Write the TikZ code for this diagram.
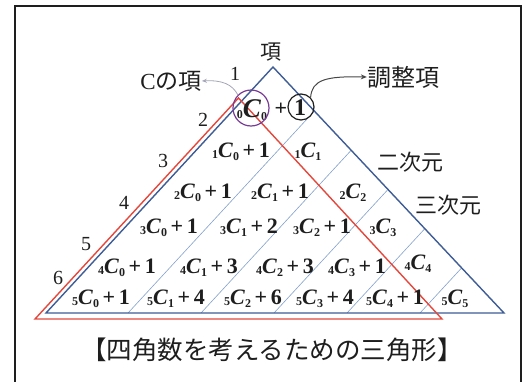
\documentclass[tikz,border=0pt]{standalone}
\usepackage{fontspec}
\setmainfont{Liberation Serif}
\newfontfamily\jp{Noto Sans CJK JP}
\usetikzlibrary{calc,shapes.geometric,arrows.meta}
\definecolor{tblue}{RGB}{62,92,150}
\definecolor{tred}{RGB}{228,72,60}
\definecolor{tdiag}{RGB}{130,160,205}
\definecolor{tpurple}{RGB}{120,60,150}
\definecolor{tgray}{RGB}{165,165,185}
\definecolor{tdark}{RGB}{70,70,70}
\definecolor{ttext}{RGB}{30,30,30}
\newcommand{\ct}[3]{\raisebox{-1pt}{\fontsize{12}{12}\selectfont\bfseries #1}\textbf{\textit{C}}\raisebox{-3pt}{\fontsize{12}{12}\selectfont\bfseries #2}#3}
\begin{document}
\begin{tikzpicture}[x=1pt,y=-1pt,
  cell/.style={font=\fontsize{22}{22}\selectfont\bfseries, text=ttext, inner sep=0pt},
  rownum/.style={font=\fontsize{20}{20}\selectfont, text=ttext, inner sep=0pt},
  jlab/.style={font=\jp\fontsize{22}{22}\selectfont, text=ttext, inner sep=0pt},
  diag/.style={draw=tdiag, line width=0.6pt},
  tri/.style={line width=1.4pt, line join=miter}]
\useasboundingbox (0,0) rectangle (528,381);
% frame
\draw[line width=1.8pt, ttext] (15,383) -- (15,6) -- (521,6) -- (521,383);
% triangles
\coordinate (AP) at (273,67);
\coordinate (BL) at (46,313);
\coordinate (BR) at (504,313);
\coordinate (RA) at (238.5,98);
\coordinate (RL) at (35,319);
\coordinate (RR) at (442,319);
\foreach \s in {82,155,228,301,374}{
  \pgfmathsetmacro\r{(458-\s)/458}
  \draw[diag] ($(BL)+(\s,0)$) -- ($(BR)!\r!(AP)$);
}
\draw[tri, draw=tblue] (BL) -- (AP) -- (BR) -- cycle;
\draw[tri, draw=tred] (RL) -- (RA) -- (RR) -- cycle;
% labels
\node[jlab, font=\jp\fontsize{21}{21}\selectfont] (kou) at (271,52) {項};
\node[jlab, font=\fontsize{23}{23}\selectfont] (clab) at (171,81) {C{\jp の項}};
\node[jlab, font=\jp\fontsize{24}{24}\selectfont] (alab) at (403,77) {調整項};
\node[jlab] (d2) at (410,162) {二次元};
\node[jlab] (d3) at (448,205) {三次元};
\node[rownum] (n1) at (235,74) {1};
\node[rownum] (n2) at (203,120) {2};
\node[rownum] (n3) at (163,161) {3};
\node[rownum] (n4) at (124,203) {4};
\node[rownum] (n5) at (86,244) {5};
\node[rownum] (n6) at (58,278) {6};
% row 0
\node[cell, font=\fontsize{27}{27}\selectfont\bfseries] (r0a) at (252,110) {\ct{0}{0}{}};
\node[cell] (r0p) at (281,109) {+};
\node[cell, font=\fontsize{24}{24}\selectfont\bfseries] (r0b) at (300,108) {1};
\node[draw=tpurple, line width=1.2pt, ellipse, minimum width=36pt, minimum height=36pt] (cc) at (251,108) {};
\node[draw=ttext, line width=1.2pt, circle, minimum size=26pt] (adj) at (301,107) {};
\draw[tgray, line width=0.8pt, -{Stealth[length=5pt,width=4pt]}] (cc.north west) .. controls (232,84) and (222,80) .. (clab.east);
\draw[tdark, line width=1pt, -{Stealth[length=6pt,width=5pt]}] (adj.north east) .. controls (312,80) and (325,76) .. (alab.west);
% row 1
\node[cell] at (241,152) {\ct{1}{0}{\,+\,1}};
\node[cell] at (308,152) {\ct{1}{1}{}};
% row 2
\node[cell] at (203,193) {\ct{2}{0}{\,+\,1}};
\node[cell] at (280,193) {\ct{2}{1}{\,+\,1}};
\node[cell] at (353,193) {\ct{2}{2}{}};
% row 3
\node[cell] at (169,228) {\ct{3}{0}{\,+\,1}};
\node[cell] at (249,228) {\ct{3}{1}{\,+\,2}};
\node[cell] at (322,228) {\ct{3}{2}{\,+\,1}};
\node[cell] at (383,228) {\ct{3}{3}{}};
% row 4
\node[cell] at (127,268) {\ct{4}{0}{\,+\,1}};
\node[cell] at (209,268) {\ct{4}{1}{\,+\,3}};
\node[cell] at (285,268) {\ct{4}{2}{\,+\,3}};
\node[cell] at (357,268) {\ct{4}{3}{\,+\,1}};
\node[cell] at (418,264) {\ct{4}{4}{}};
% row 5
\node[cell] at (101,299) {\ct{5}{0}{\,+\,1}};
\node[cell] at (176,299) {\ct{5}{1}{\,+\,4}};
\node[cell] at (253,299) {\ct{5}{2}{\,+\,6}};
\node[cell] at (325,299) {\ct{5}{3}{\,+\,4}};
\node[cell] at (395,299) {\ct{5}{4}{\,+\,1}};
\node[cell] at (455,299) {\ct{5}{5}{}};
% caption
\node[jlab, font=\jp\fontsize{25.5}{26}\selectfont] (cap) at (272,350) {【四角数を考えるための三角形】};
\end{tikzpicture}
\end{document}
